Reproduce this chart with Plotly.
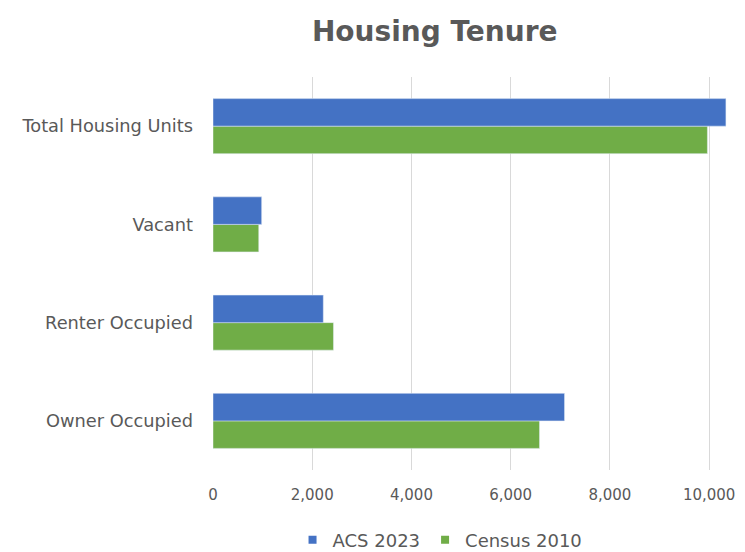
import plotly.graph_objects as go

categories = ["Total Housing Units", "Vacant", "Renter Occupied", "Owner Occupied"]
acs_2023 = [10338, 981, 2223, 7085]
census_2010 = [9965, 922, 2428, 6581]
tick_vals = [0, 2000, 4000, 6000, 8000, 10000]
tick_text = ["0", "2,000", "4,000", "6,000", "8,000", "10,000"]

gray = "#595959"
blue = "#4472C4"
green = "#70AD47"

fig = go.Figure()
fig.add_trace(go.Bar(y=categories, x=census_2010, name="Census 2010", orientation="h",
                     marker=dict(color=green), showlegend=False))
fig.add_trace(go.Bar(y=categories, x=acs_2023, name="ACS 2023", orientation="h",
                     marker=dict(color=blue), showlegend=False))
# legend entries with small square swatches
fig.add_trace(go.Scatter(x=[None], y=[None], mode="markers", name="ACS 2023",
                         marker=dict(symbol="square", size=8, color=blue)))
fig.add_trace(go.Scatter(x=[None], y=[None], mode="markers", name="Census 2010",
                         marker=dict(symbol="square", size=8, color=green)))

fig.update_layout(
    width=737, height=544,
    margin=dict(l=205, r=10, t=69, b=82),
    paper_bgcolor="white", plot_bgcolor="white",
    title=dict(text="<b>Housing Tenure</b>", x=0.579, xref="container", xanchor="center",
               y=0.958, yref="container", yanchor="middle",
               font=dict(family="DejaVu Sans", size=28, color=gray)),
    barmode="group", bargap=0.44, bargroupgap=0,
    font=dict(family="DejaVu Sans", size=15, color=gray),
    legend=dict(orientation="h", x=0.44, xanchor="center",
                y=0.022, yref="container", yanchor="middle",
                itemwidth=30, tracegroupgap=0,
                font=dict(family="DejaVu Sans", size=18, color=gray)),
    xaxis=dict(range=[0, 10400], tickvals=tick_vals, ticktext=tick_text,
               showgrid=True, gridcolor="#d9d9d9", gridwidth=1, zeroline=False,
               showline=False, ticks="", ticklabelstandoff=14,
               tickfont=dict(size=15, color=gray)),
    yaxis=dict(categoryorder="array", categoryarray=categories[::-1],
               showgrid=False, showline=False, ticks="", ticklabelstandoff=19,
               tickfont=dict(size=17.8, color=gray)),
)
fig.write_html("out.html")
